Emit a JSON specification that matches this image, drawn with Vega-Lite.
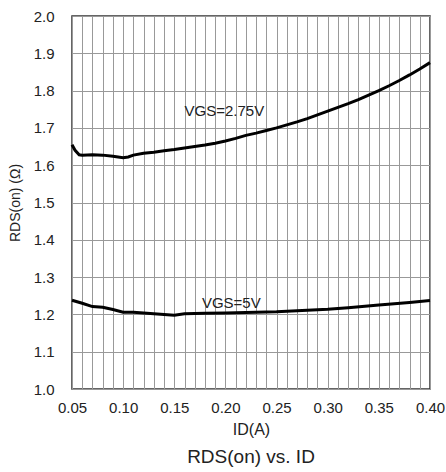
{
  "$schema": "https://vega.github.io/schema/vega-lite/v6.json",
  "autosize": "none",
  "width": 358,
  "height": 373,
  "padding": {"left": 72, "top": 16, "right": 16, "bottom": 83},
  "background": "white",
  "config": {
    "font": "Liberation Sans",
    "view": {"stroke": "#333333", "strokeWidth": 1.5}
  },
  "title": {
    "text": "RDS(on) vs. ID",
    "orient": "bottom",
    "fontSize": 19,
    "fontWeight": "normal",
    "color": "#222222",
    "offset": 11
  },
  "datasets": {
    "curves": [
      {"id": 0.050, "r": 1.655, "vgs": "2.75V"},
      {"id": 0.053, "r": 1.640, "vgs": "2.75V"},
      {"id": 0.057, "r": 1.628, "vgs": "2.75V"},
      {"id": 0.060, "r": 1.627, "vgs": "2.75V"},
      {"id": 0.070, "r": 1.628, "vgs": "2.75V"},
      {"id": 0.080, "r": 1.627, "vgs": "2.75V"},
      {"id": 0.090, "r": 1.624, "vgs": "2.75V"},
      {"id": 0.100, "r": 1.620, "vgs": "2.75V"},
      {"id": 0.105, "r": 1.622, "vgs": "2.75V"},
      {"id": 0.110, "r": 1.627, "vgs": "2.75V"},
      {"id": 0.120, "r": 1.632, "vgs": "2.75V"},
      {"id": 0.130, "r": 1.635, "vgs": "2.75V"},
      {"id": 0.140, "r": 1.639, "vgs": "2.75V"},
      {"id": 0.150, "r": 1.642, "vgs": "2.75V"},
      {"id": 0.160, "r": 1.646, "vgs": "2.75V"},
      {"id": 0.170, "r": 1.650, "vgs": "2.75V"},
      {"id": 0.180, "r": 1.654, "vgs": "2.75V"},
      {"id": 0.190, "r": 1.659, "vgs": "2.75V"},
      {"id": 0.200, "r": 1.665, "vgs": "2.75V"},
      {"id": 0.210, "r": 1.672, "vgs": "2.75V"},
      {"id": 0.220, "r": 1.680, "vgs": "2.75V"},
      {"id": 0.230, "r": 1.686, "vgs": "2.75V"},
      {"id": 0.240, "r": 1.693, "vgs": "2.75V"},
      {"id": 0.250, "r": 1.700, "vgs": "2.75V"},
      {"id": 0.260, "r": 1.708, "vgs": "2.75V"},
      {"id": 0.270, "r": 1.716, "vgs": "2.75V"},
      {"id": 0.280, "r": 1.725, "vgs": "2.75V"},
      {"id": 0.290, "r": 1.735, "vgs": "2.75V"},
      {"id": 0.300, "r": 1.745, "vgs": "2.75V"},
      {"id": 0.310, "r": 1.755, "vgs": "2.75V"},
      {"id": 0.320, "r": 1.765, "vgs": "2.75V"},
      {"id": 0.330, "r": 1.776, "vgs": "2.75V"},
      {"id": 0.340, "r": 1.788, "vgs": "2.75V"},
      {"id": 0.350, "r": 1.800, "vgs": "2.75V"},
      {"id": 0.360, "r": 1.813, "vgs": "2.75V"},
      {"id": 0.370, "r": 1.827, "vgs": "2.75V"},
      {"id": 0.380, "r": 1.842, "vgs": "2.75V"},
      {"id": 0.390, "r": 1.858, "vgs": "2.75V"},
      {"id": 0.400, "r": 1.875, "vgs": "2.75V"},
      {"id": 0.050, "r": 1.238, "vgs": "5V"},
      {"id": 0.060, "r": 1.230, "vgs": "5V"},
      {"id": 0.070, "r": 1.221, "vgs": "5V"},
      {"id": 0.080, "r": 1.219, "vgs": "5V"},
      {"id": 0.090, "r": 1.213, "vgs": "5V"},
      {"id": 0.100, "r": 1.206, "vgs": "5V"},
      {"id": 0.110, "r": 1.206, "vgs": "5V"},
      {"id": 0.120, "r": 1.204, "vgs": "5V"},
      {"id": 0.130, "r": 1.202, "vgs": "5V"},
      {"id": 0.140, "r": 1.200, "vgs": "5V"},
      {"id": 0.150, "r": 1.198, "vgs": "5V"},
      {"id": 0.160, "r": 1.202, "vgs": "5V"},
      {"id": 0.180, "r": 1.203, "vgs": "5V"},
      {"id": 0.200, "r": 1.204, "vgs": "5V"},
      {"id": 0.220, "r": 1.205, "vgs": "5V"},
      {"id": 0.250, "r": 1.207, "vgs": "5V"},
      {"id": 0.270, "r": 1.210, "vgs": "5V"},
      {"id": 0.300, "r": 1.214, "vgs": "5V"},
      {"id": 0.320, "r": 1.218, "vgs": "5V"},
      {"id": 0.350, "r": 1.225, "vgs": "5V"},
      {"id": 0.380, "r": 1.232, "vgs": "5V"},
      {"id": 0.400, "r": 1.237, "vgs": "5V"}
    ],
    "labels": [
      {"id": 0.160, "r": 1.745, "label": "VGS=2.75V"},
      {"id": 0.177, "r": 1.230, "label": "VGS=5V"}
    ]
  },
  "encoding": {
    "x": {
      "field": "id",
      "type": "quantitative",
      "scale": {"domain": [0.05, 0.40], "nice": false, "zero": false},
      "axis": {
        "title": "ID(A)",
        "titleFont": "Liberation Sans",
        "titleFontSize": 16,
        "titleFontWeight": "normal",
        "titleColor": "#222222",
        "titlePadding": 6,
        "values": [0.05,0.06,0.07,0.08,0.09,0.10,0.11,0.12,0.13,0.14,0.15,0.16,0.17,0.18,0.19,0.20,0.21,0.22,0.23,0.24,0.25,0.26,0.27,0.28,0.29,0.30,0.31,0.32,0.33,0.34,0.35,0.36,0.37,0.38,0.39,0.40],
        "labelExpr": "round(datum.value*100) % 5 == 0 ? format(datum.value, '.2f') : ''",
        "labelOverlap": false,
        "labelFlush": false,
        "labelFontSize": 15,
        "labelColor": "#222222",
        "labelPadding": 11,
        "ticks": false,
        "domain": false,
        "grid": true,
        "gridColor": "#999999",
        "gridWidth": 1,
        "gridOpacity": 1
      }
    },
    "y": {
      "field": "r",
      "type": "quantitative",
      "scale": {"domain": [1.0, 2.0], "nice": false, "zero": false},
      "axis": {
        "title": "RDS(on) (Ω)",
        "titleFont": "Liberation Sans",
        "titleFontSize": 14,
        "titleFontWeight": "normal",
        "titleColor": "#222222",
        "titlePadding": 11,
        "values": [1.0,1.1,1.2,1.3,1.4,1.5,1.6,1.7,1.8,1.9,2.0],
        "format": ".1f",
        "labelFontSize": 15,
        "labelColor": "#222222",
        "labelPadding": 18,
        "ticks": false,
        "domain": false,
        "grid": true,
        "gridColor": "#999999",
        "gridWidth": 1,
        "gridOpacity": 1
      }
    }
  },
  "layer": [
    {
      "data": {"name": "curves"},
      "mark": {"type": "line", "color": "black", "strokeWidth": 3},
      "encoding": {
        "detail": {"field": "vgs", "type": "nominal"}
      }
    },
    {
      "data": {"name": "labels"},
      "mark": {"type": "text", "align": "left", "baseline": "middle", "fontSize": 15, "color": "#222222", "font": "Liberation Sans"},
      "encoding": {
        "text": {"field": "label", "type": "nominal"}
      }
    }
  ]
}
